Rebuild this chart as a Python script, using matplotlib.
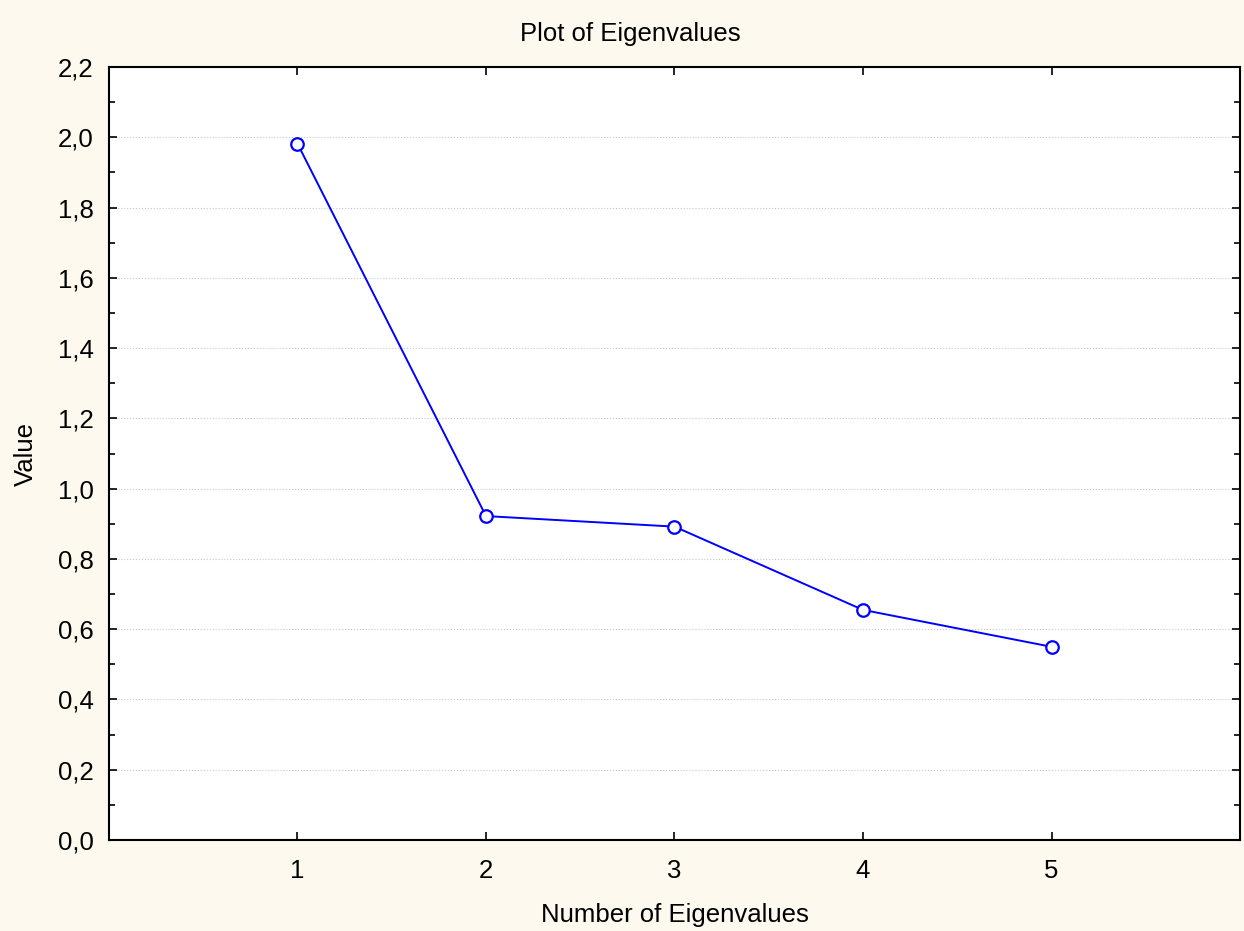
import matplotlib
matplotlib.use("Agg")
import matplotlib.pyplot as plt
from matplotlib.ticker import MultipleLocator, FuncFormatter

# scree plot data
components = [1, 2, 3, 4, 5]
eigenvalues = [1.982, 0.922, 0.892, 0.655, 0.550]
x_ticks = [1, 2, 3, 4, 5]

BG = '#fdf9ee'
BLUE = '#0000ff'
DARK = '#000000'

plt.rcParams['font.family'] = ['Liberation Sans', 'DejaVu Sans']

fig = plt.figure(figsize=(12.44, 9.31), dpi=100)
fig.patch.set_facecolor(BG)
ax = fig.add_axes([0.0876, 0.0977, 0.9092, 0.8303])
ax.set_facecolor('white')

ax.plot(components, eigenvalues, '-', color=BLUE, linewidth=1.4,
        marker='o', markersize=9, markerfacecolor='white',
        markeredgecolor=BLUE, markeredgewidth=1.6, zorder=3)

ax.set_xlim(0, 6)
ax.set_ylim(0, 2.2)
ax.set_xticks(x_ticks)
ax.yaxis.set_major_locator(MultipleLocator(0.2))
ax.yaxis.set_minor_locator(MultipleLocator(0.1))
ax.yaxis.set_major_formatter(FuncFormatter(lambda v, p: f"{v:.1f}".replace('.', ',')))

# ticks inside on all sides
ax.tick_params(axis='both', which='major', direction='in', length=6, width=1.2,
               labelsize=18.5, colors=DARK, top=True, right=True)
ax.tick_params(axis='y', which='minor', direction='in', length=4, width=1.2,
               right=True, left=True)
ax.tick_params(axis='y', which='major', pad=11)
ax.tick_params(axis='x', which='major', pad=14)

ax.grid(True, axis='y', which='major', color='#c8c8c8', linestyle=':', linewidth=0.8)
ax.set_axisbelow(True)

for spine in ax.spines.values():
    spine.set_color(DARK)
    spine.set_linewidth(1.5)

ax.set_xlabel('Number of Eigenvalues', fontsize=18.5, labelpad=14)
ax.set_ylabel('Value', fontsize=18.5, labelpad=14)
fig.text(630 / 1244, 1 - 34 / 931, 'Plot of Eigenvalues', fontsize=18.5,
         ha='center', va='center')

fig.savefig('out.png', dpi=100, facecolor=BG)
